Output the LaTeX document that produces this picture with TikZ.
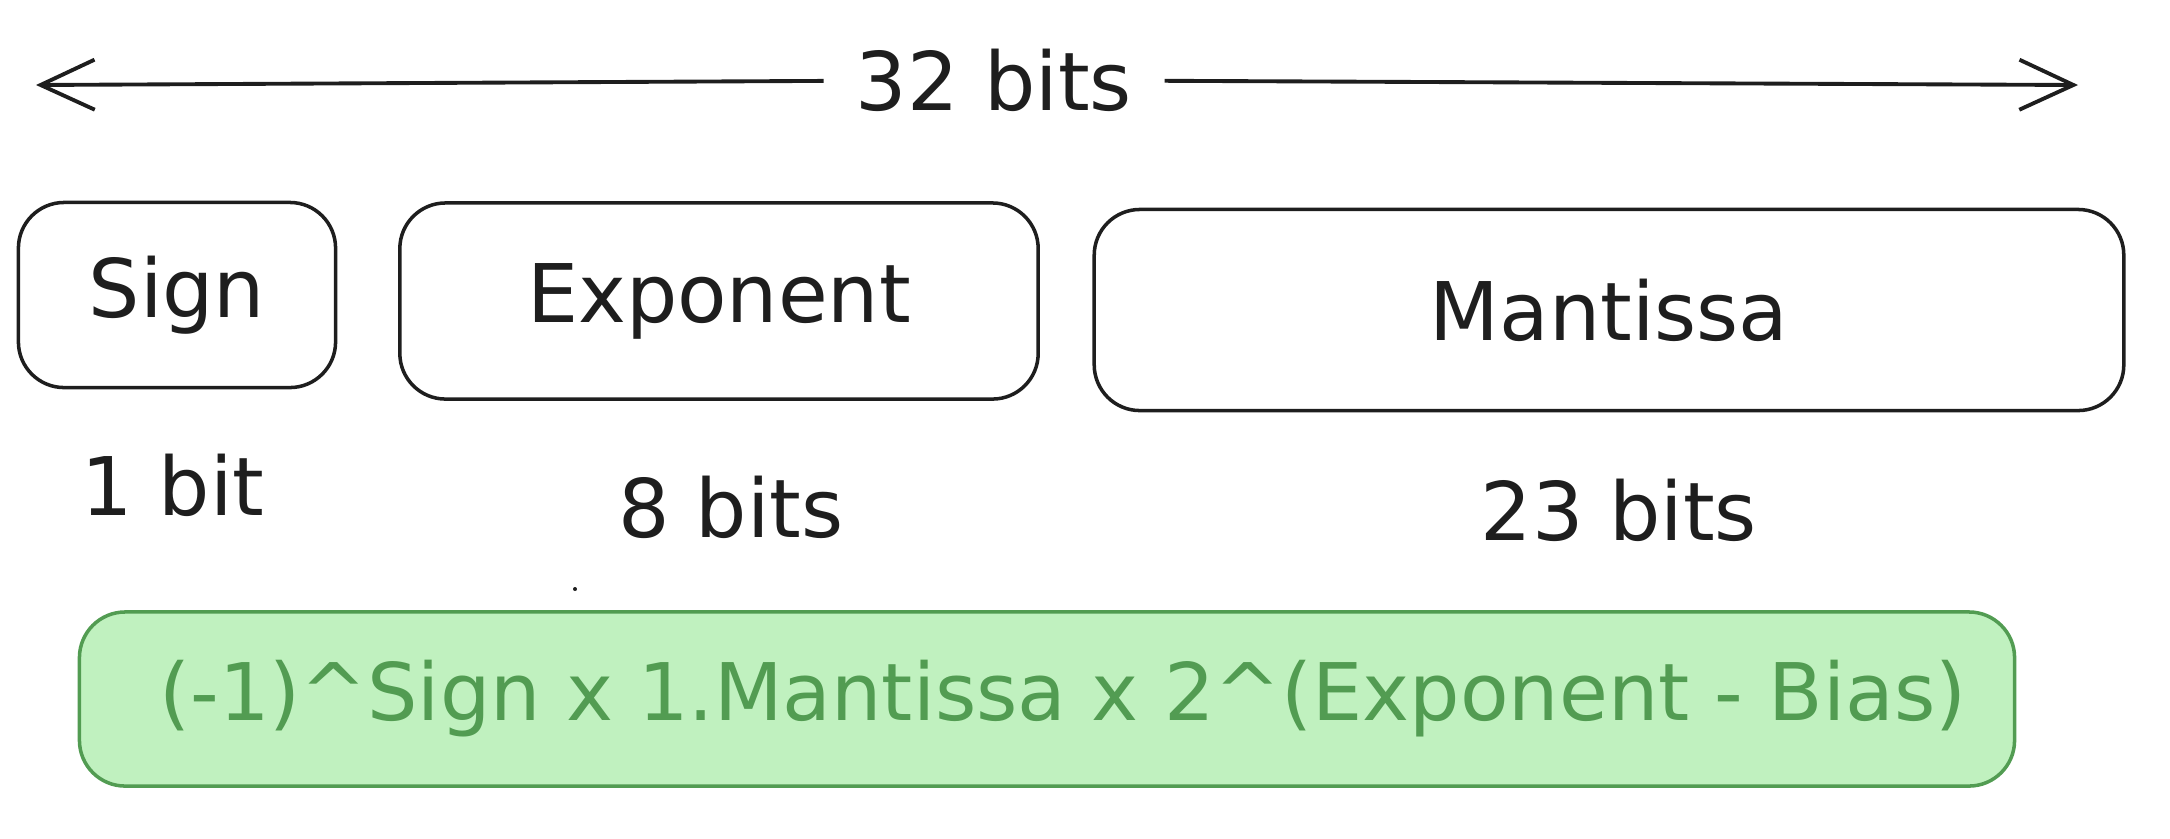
\documentclass[tikz,border=0pt]{standalone}
\usepackage{fontspec}
\setmainfont{DejaVu Sans}
\usetikzlibrary{arrows.meta}

\definecolor{inkblack}{HTML}{1E1E1E}
\definecolor{mintfill}{RGB}{192,241,191}
\definecolor{mintline}{RGB}{82,156,82}

\begin{document}
\begin{tikzpicture}[x=0.01cm, y=-0.01cm, >={Straight Barb[length=5.4mm, width=5mm]},
    field/.style={draw=inkblack, line width=1pt, rounded corners=13pt, inner sep=0pt, text=inkblack, font=\fontsize{23}{28}\selectfont},
    width/.style={text=inkblack, anchor=base, font=\fontsize{23}{28}\selectfont}]
    \useasboundingbox (0,0) rectangle (2170,838);

    % total width arrow
    \node[width, anchor=center, inner xsep=9pt] (total) at (994,80) {32 bits};
    \coordinate (leftend) at (36,85);
    \coordinate (rightend) at (2078,85);
    \draw[->, line width=1.1pt, inkblack] (total) -- (leftend);
    \draw[->, line width=1.1pt, inkblack] (total) -- (rightend);

    % the three fields
    \node[field, minimum width=3.17cm, minimum height=1.85cm] (sign) at (177,295) {Sign};
    \node[field, minimum width=6.38cm, minimum height=1.96cm] (exponent) at (719,301) {Exponent};
    \node[field, minimum width=10.29cm, minimum height=2.01cm] (mantissa) at (1609,310) {Mantissa};

    \node[width] (signbits) at (173,515) {1 bit};
    \node[width] (exponentbits) at (731,537) {8 bits};
    \node[width] (mantissabits) at (1619,540) {23 bits};

    \fill[inkblack] (575,589) circle (2);

    % value formula
    \node[draw=mintline, fill=mintfill, line width=1pt, rounded corners=13pt,
          minimum width=19.34cm, minimum height=1.74cm] (formulabox) at (1047,699) {};
    \node[text=mintline, font=\fontsize{22.6}{27}\selectfont] (formula) at (1063,699)
          {(-1)\^{}Sign x 1.Mantissa x 2\^{}(Exponent - Bias)};
\end{tikzpicture}
\end{document}
